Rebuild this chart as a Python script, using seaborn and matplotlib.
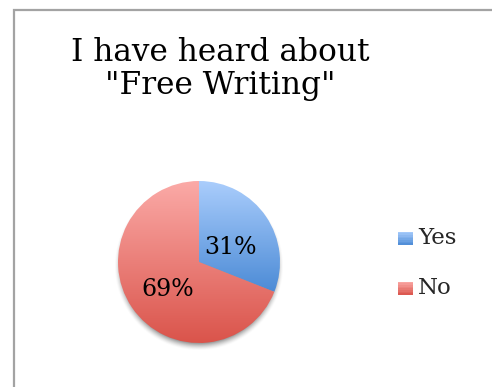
import numpy as np
import matplotlib
matplotlib.use("Agg")
import matplotlib.pyplot as plt
import seaborn as sns
from matplotlib.colors import to_rgb
from matplotlib.patches import Rectangle
from matplotlib.legend_handler import HandlerBase

# Survey answers
categories = ["Yes", "No"]
shares = [31, 69]
title = 'I have heard about\n"Free Writing"'

# top / bottom colours of each slice's vertical gradient
grad_top = ["#aacdfc", "#fbaaa7"]
grad_bottom = ["#4c8bd6", "#da544b"]

sns.set_theme(style="white")
plt.rcParams["font.family"] = ["DejaVu Serif"]

W, H = 492, 387
fig = plt.figure(figsize=(W / 100, H / 100), dpi=100)
fig.patch.set_facecolor("white")

# frame of the chart area (left and top edges visible)
fig.add_artist(Rectangle((14 / W, -0.1), 1.2, 1.1 - 10 / H, transform=fig.transFigure,
                         fill=False, edgecolor="#a3a3a3", linewidth=1.6))

cx, cy, r = 199, 262, 81
half = 100
lim = half / r
ax = fig.add_axes([(cx - half) / W, (H - cy - half) / H, 2 * half / W, 2 * half / H])
ax.set_xlim(-lim, lim)
ax.set_ylim(-lim, lim)
ax.axis("off")


def gradient_img(c_top, c_bot, n=256):
    t = np.linspace(0, 1, n)[:, None]
    a, b = np.array(to_rgb(c_top)), np.array(to_rgb(c_bot))
    return (a * (1 - t) + b * t)[:, None, :].repeat(2, axis=1)


# soft drop shadow under the pie
g = np.linspace(-lim, lim, 400)
X, Y = np.meshgrid(g, g)
d = np.hypot(X, Y + 0.05)
alpha = np.clip((1.045 - d) / 0.09, 0, 1) ** 1.5 * 0.6
shadow = np.zeros((400, 400, 4))
shadow[..., :3] = 0.33
shadow[..., 3] = alpha
ax.imshow(shadow, extent=(-lim, lim, -lim, lim), origin="lower", zorder=0, interpolation="bilinear")

wedges, texts, autotexts = ax.pie(
    shares, startangle=90, counterclock=False, radius=1,
    autopct="%1.0f%%", pctdistance=0.47,
    textprops=dict(fontsize=17, color="black"),
    wedgeprops=dict(linewidth=0),
)
ax.set_xlim(-lim, lim)
ax.set_ylim(-lim, lim)

for w, ct, cb in zip(wedges, grad_top, grad_bottom):
    w.set_facecolor("none")
    bb = w.get_path().get_extents(w.get_patch_transform())
    im = ax.imshow(gradient_img(ct, cb), extent=(-1, 1, bb.y0, bb.y1), origin="upper",
                   aspect="auto", zorder=1, interpolation="bilinear")
    im.set_clip_path(w)
for t in autotexts:
    x, y = t.get_position()
    t.set_position((x, y - 0.08))
    t.set_zorder(3)
ax.set_xlim(-lim, lim)
ax.set_ylim(-lim, lim)


class GradientHandler(HandlerBase):
    def __init__(self, top, bot):
        super().__init__()
        self.top, self.bot = np.array(to_rgb(top)), np.array(to_rgb(bot))

    def create_artists(self, legend, orig, xd, yd, width, height, fontsize, trans):
        n = 8
        arts = []
        for i in range(n):
            f = (i + 0.5) / n
            col = self.top * (1 - f) + self.bot * f
            arts.append(Rectangle((xd, yd + height * (1 - (i + 1) / n)), width, height / n + 0.3,
                                  facecolor=col, edgecolor="none", transform=trans))
        return arts


handles = [Rectangle((0, 0), 1, 1, label=c) for c in categories]
fig.legend(handles, categories, loc="center left", bbox_to_anchor=(377 / W, 1 - 263 / H),
           frameon=False, fontsize=16.5, handlelength=0.66, handleheight=0.52,
           handletextpad=0.22, labelspacing=1.22,
           handler_map={h: GradientHandler(t, b) for h, t, b in zip(handles, grad_top, grad_bottom)})

fig.text(220 / W, 1 - 69 / H, title, ha="center", va="center", fontsize=22.5,
         linespacing=1.12, color="black")

fig.savefig("out.png", dpi=100)
